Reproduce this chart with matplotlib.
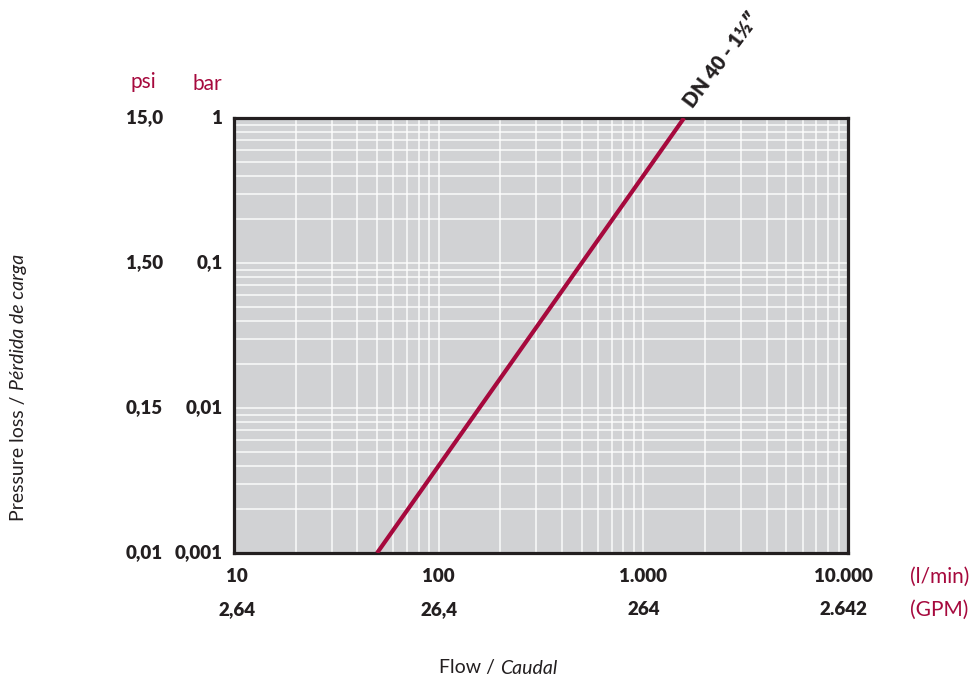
import matplotlib
matplotlib.use("Agg")
import matplotlib.pyplot as plt
from matplotlib.ticker import LogLocator, NullFormatter

# ---- data ----
flow_lmin = [50, 1581]          # l/min
pressure_bar = [0.001, 1.0]     # bar

flow_ticks = [10, 100, 1000, 10000]
flow_labels = ["10", "100", "1.000", "10.000"]
gpm_labels = ["2,64", "26,4", "264", "2.642"]

bar_ticks = [0.001, 0.01, 0.1, 1]
bar_labels = ["0,001", "0,01", "0,1", "1"]
psi_labels = ["0,01", "0,15", "1,50", "15,0"]

series_label = "DN 40 - 1\u00bd\u2033"

# ---- style ----
RED = "#a6093d"
DARK = "#231f20"
BG = "#d1d2d4"
FAM = ["Lato", "DejaVu Sans"]
plt.rcParams["font.family"] = FAM
TW = "heavy"

W, H = 977, 684
fig = plt.figure(figsize=(W / 100, H / 100), dpi=100)
ax = fig.add_axes([234 / W, 1 - 553 / H, (848 - 234) / W, (553 - 118) / H])
ax.set_xscale("log")
ax.set_yscale("log")
ax.set_xlim(10, 10000)
ax.set_ylim(0.001, 1)
ax.set_facecolor(BG)

ax.xaxis.set_major_locator(LogLocator(base=10, numticks=10))
ax.xaxis.set_minor_locator(LogLocator(base=10, subs=range(2, 10), numticks=20))
ax.yaxis.set_major_locator(LogLocator(base=10, numticks=10))
ax.yaxis.set_minor_locator(LogLocator(base=10, subs=range(2, 10), numticks=20))
for a in (ax.xaxis, ax.yaxis):
    a.set_major_formatter(NullFormatter())
    a.set_minor_formatter(NullFormatter())
ax.tick_params(which="both", length=0)
ax.grid(True, which="both", color="white", linewidth=1.1, alpha=0.9)
ax.set_axisbelow(True)
for s in ax.spines.values():
    s.set_color(DARK)
    s.set_linewidth(2.3)

ax.plot(flow_lmin, pressure_bar, color=RED, linewidth=3.0, solid_capstyle="butt", zorder=3)

# x tick labels (two rows); last label nudged left as in the reference
xt = ax.get_xaxis_transform()
n = len(flow_ticks)
for i, (v, l1, l2) in enumerate(zip(flow_ticks, flow_labels, gpm_labels)):
    dx = -5 if i == n - 1 else (3 if i == 0 else 0)
    for yy, lab in ((-0.055, l1), (-0.131, l2)):
        ax.annotate(lab, xy=(v, yy), xycoords=xt, xytext=(dx * 0.72, 0),
                    textcoords="offset points", ha="center", va="center",
                    fontsize=13.5, fontweight=TW, color=DARK, annotation_clip=False)

# y tick labels (bar and psi columns)
yt = ax.get_yaxis_transform()
for v, lb, lp in zip(bar_ticks, bar_labels, psi_labels):
    ax.text(-0.018, v, lb, transform=yt, ha="right", va="center",
            fontsize=13.5, fontweight=TW, color=DARK, clip_on=False)
    ax.text(-0.116, v, lp, transform=yt, ha="right", va="center",
            fontsize=13.5, fontweight=TW, color=DARK, clip_on=False)

# unit labels
fig.text(143 / W, 1 - 82 / H, "psi", ha="center", va="center", fontsize=15, color=RED)
fig.text(207 / W, 1 - 84 / H, "bar", ha="center", va="center", fontsize=15, color=RED)
fig.text(910 / W, 1 - 577 / H, "(l/min)", ha="left", va="center", fontsize=15, color=RED)
fig.text(910 / W, 1 - 610 / H, "(GPM)", ha="left", va="center", fontsize=15, color=RED)

# axis titles
fig.text(500 / W, 1 - 668 / H, "Flow / ", ha="right", va="center", fontsize=14, color=DARK)
fig.text(500 / W, 1 - 668 / H, "Caudal", ha="left", va="center", fontsize=14,
         color=DARK, style="italic")
t1 = fig.text(19 / W, 1 - 521 / H, "Pressure loss / ", ha="center", va="bottom",
              fontsize=14, color=DARK, rotation=90)
fig.canvas.draw()
bb = t1.get_window_extent()
fig.text(19 / W, bb.y1 / H, "P\u00e9rdida de carga", ha="center", va="bottom",
         fontsize=14, color=DARK, rotation=90, style="italic")

# series label
ax.annotate(series_label, xy=(flow_lmin[-1], pressure_bar[-1]), xycoords="data",
            xytext=(8, 5), textcoords="offset points", rotation=53,
            rotation_mode="anchor", ha="left", va="bottom",
            fontsize=14.5, fontweight=TW, color=DARK, annotation_clip=False,
            family=FAM)

fig.savefig("out.png", dpi=100)
